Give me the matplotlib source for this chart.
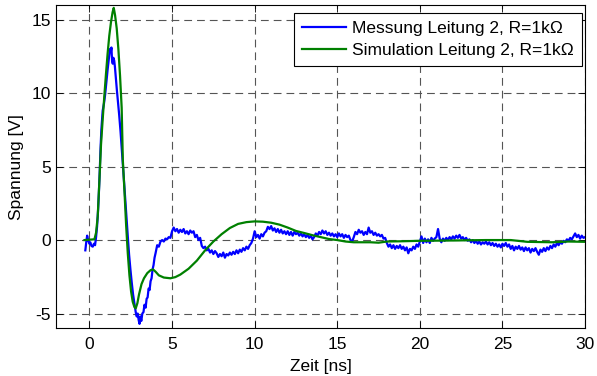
import numpy as np
import matplotlib
matplotlib.use("Agg")
import matplotlib.pyplot as plt

plt.rcParams["font.family"] = ["Liberation Sans", "DejaVu Sans"]
plt.rcParams["axes.unicode_minus"] = False

# --------------------------------------------------
# Measurement, line 2 (pulse part, irregular samples)
# --------------------------------------------------
mess_t_pulse = [-0.25, -0.2, -0.14, -0.08, 0.0, 0.05, 0.12, 0.2, 0.27, 0.34,
                0.4, 0.46, 0.52, 0.57, 0.62, 0.67, 0.72, 0.8, 0.88, 0.95,
                1.02, 1.1, 1.17, 1.24, 1.29, 1.33, 1.37, 1.41, 1.45, 1.5,
                1.54, 1.6, 1.66, 1.72, 1.8, 1.88, 1.95, 2.02, 2.08, 2.14,
                2.2, 2.27, 2.33, 2.4, 2.48, 2.56, 2.64, 2.72, 2.8, 2.86,
                2.92, 2.98, 3.03, 3.08, 3.14, 3.2, 3.27, 3.33, 3.4, 3.46,
                3.52, 3.58, 3.64, 3.7, 3.76, 3.82, 3.88, 3.94, 4.0]
mess_u_pulse = [-0.7, -0.2, 0.3, 0.0, -0.25, -0.15, -0.4, -0.45, -0.25, -0.35,
                0.2, 0.9, 2.0, 3.2, 4.6, 6.2, 7.5, 8.8, 9.3, 9.9,
                10.7, 11.6, 12.3, 13.0, 12.8, 13.1, 12.2, 12.0, 12.4, 12.2,
                11.8, 11.0, 10.2, 9.5, 8.5, 7.4, 6.3, 5.1, 4.2, 3.2,
                2.2, 1.0, 0.1, -1.0, -2.0, -2.9, -3.7, -4.3, -4.9, -5.2,
                -5.0, -5.45, -5.7, -5.2, -5.5, -5.0, -4.9, -4.4, -4.6, -4.0,
                -3.9, -3.3, -3.4, -2.8, -2.6, -2.0, -1.7, -1.2, -0.9]

# Measurement tail, sampled every 0.1 ns from 4.1 ns to 30 ns
mess_t0 = 4.1
mess_dt = 0.1
mess_u_tail = [
    -0.35, -0.45, -0.1, 0.0, -0.1, 0.1, 0.05, 0.2, 0.15, 0.6,
    0.85, 0.6, 0.75, 0.5, 0.7, 0.55, 0.75, 0.45, 0.6, 0.4,
    0.65, 0.5, 0.6, 0.2, 0.35, 0.0, 0.15, -0.4, -0.55, -0.45,
    -0.7, -0.6, -0.85, -0.7, -0.95, -0.75, -0.9, -1.15, -0.95, -1.1,
    -0.85, -1.2, -0.95, -1.05, -0.85, -1.0, -0.8, -0.95, -0.7, -0.9,
    -0.65, -0.8, -0.55, -0.7, -0.45, -0.6, -0.35, -0.2, 0.1, 0.6,
    0.2, 0.35, 0.1, 0.4, 0.25, 0.5, 0.6, 0.9, 0.75, 0.95,
    0.65, 0.8, 0.55, 0.75, 0.5, 0.7, 0.45, 0.6, 0.4, 0.6,
    0.35, 0.55, 0.3, 0.55, 0.4, 0.5, 0.3, 0.45, 0.25, 0.4,
    0.2, 0.35, 0.15, 0.3, 0.05, 0.2, 0.45, 0.3, 0.55, 0.4,
    0.65, 0.45, 0.6, 0.35, 0.5, 0.3, 0.45, 0.25, 0.4, 0.2,
    0.45, 0.25, 0.4, 0.15, 0.35, 0.2, 0.3, 0.0, -0.1, 0.2,
    0.55, 0.4, 0.7, 0.5, 0.6, 0.35, 0.55, 0.4, 0.85, 0.5,
    0.6, 0.35, 0.5, 0.3, 0.4, 0.25, 0.35, 0.1, 0.15, -0.2,
    -0.45, -0.3, -0.55, -0.35, -0.6, -0.4, -0.55, -0.35, -0.6, -0.45,
    -0.7, -0.5, -0.9, -0.6, -0.7, -0.45, -0.6, -0.3, -0.45, -0.1,
    0.25, -0.2, 0.1, -0.15, 0.05, -0.2, 0.15, -0.05, 0.1, 0.2,
    0.75, 0.1, -0.15, 0.1, -0.05, 0.15, 0.0, 0.2, 0.05, 0.25,
    0.1, 0.3, 0.15, 0.35, 0.1, 0.2, 0.0, 0.15, -0.05, 0.05,
    -0.15, 0.0, -0.2, -0.05, -0.25, -0.1, -0.3, -0.15, -0.25, -0.1,
    -0.3, -0.15, -0.35, -0.2, -0.4, -0.25, -0.45, -0.3, -0.5, -0.25,
    -0.4, -0.2, -0.45, -0.3, -0.6, -0.4, -0.7, -0.45, -0.6, -0.4,
    -0.65, -0.5, -0.75, -0.5, -0.7, -0.55, -0.85, -0.6, -0.75, -0.55,
    -0.8, -1.0, -0.65, -0.8, -0.55, -0.75, -0.5, -0.65, -0.4, -0.55,
    -0.3, -0.45, -0.2, -0.35, -0.15, -0.25, -0.05, -0.15, 0.05, -0.05,
    0.15, 0.05, 0.25, 0.45, 0.2, 0.35, 0.1, 0.3, 0.15, 0.2,
]

# --------------------------------------------------
# Simulation, line 2
# --------------------------------------------------
sim_t = [-0.3, 0.3, 0.4, 0.5, 0.6, 0.7, 0.8, 0.9, 1.0, 1.1,
         1.2, 1.3, 1.4, 1.47, 1.55, 1.65, 1.75, 1.85, 1.95, 2.02,
         2.12, 2.22, 2.32, 2.42, 2.52, 2.62, 2.72, 2.8, 2.9, 3.0,
         3.15, 3.3, 3.5, 3.7, 3.85, 4.0, 4.2, 4.5, 4.9, 5.2,
         5.5, 6.0, 6.5, 7.0, 7.5, 8.0, 8.5, 9.0, 9.5, 10.0,
         10.5, 11.0, 11.5, 12.0, 12.5, 13.0, 13.5, 14.0, 14.5, 15.0,
         15.5, 16.0, 17.0, 17.5, 18.0, 19.0, 20.0, 22.0, 24.0, 25.5,
         26.5, 28.0, 29.0, 30.0]
sim_u = [0.0, 0.05, 0.5, 1.6, 4.0, 6.5, 8.2, 9.8, 11.3, 12.7,
         13.9, 14.8, 15.5, 15.8, 15.3, 14.4, 13.0, 11.2, 9.0, 5.45,
         3.3, 1.0, -0.9, -2.4, -3.5, -4.2, -4.55, -4.65, -4.3, -3.7,
         -3.0, -2.6, -2.25, -2.05, -2.0, -2.15, -2.4, -2.55, -2.6, -2.52,
         -2.35, -1.95, -1.4, -0.7, -0.1, 0.4, 0.82, 1.1, 1.22, 1.27,
         1.25, 1.18, 1.05, 0.85, 0.62, 0.48, 0.33, 0.2, 0.07, 0.0,
         -0.1, -0.15, -0.15, -0.18, -0.1, -0.08, -0.05, -0.03, 0.0, 0.0,
         -0.12, -0.15, -0.1, -0.12]

mess_t_tail = np.round(mess_t0 + mess_dt * np.arange(len(mess_u_tail)), 2)
mess_t = np.concatenate([mess_t_pulse, mess_t_tail])
mess_u = np.concatenate([mess_u_pulse, mess_u_tail])

x_ticks = [0, 5, 10, 15, 20, 25, 30]
y_ticks = [-5, 0, 5, 10, 15]

fig = plt.figure(figsize=(5.97, 3.76), dpi=100)
ax = fig.add_axes([0.0945, 0.127, 0.8855, 0.86])

ax.plot(mess_t, mess_u, color="#0000ff", lw=1.6,
        label="Messung Leitung 2, R=1k\u03a9")
ax.plot(sim_t, sim_u, color="#008000", lw=1.6,
        label="Simulation Leitung 2, R=1k\u03a9")

ax.set_xlim(-2, 30)
ax.set_ylim(-6, 16)
ax.set_xticks(x_ticks)
ax.set_yticks(y_ticks)
ax.tick_params(direction="in", top=True, right=True, labelsize=12.5,
               length=5, width=0.6)
ax.tick_params(axis="x", pad=6)
ax.tick_params(axis="y", pad=4)
ax.grid(True, color="#555555", linestyle=(0, (7, 4.5)), linewidth=0.8)
for sp in ax.spines.values():
    sp.set_linewidth(0.8)

ax.set_xlabel("Zeit [ns]", fontsize=12.5, labelpad=5)
ax.set_ylabel("Spannung [V]", fontsize=12.5, labelpad=5)

leg = ax.legend(loc="upper right", bbox_to_anchor=(0.994, 0.974),
                fontsize=12.5, fancybox=False, framealpha=1,
                edgecolor="black", borderpad=0.45, handlelength=2.55,
                handletextpad=0.35, labelspacing=0.4, borderaxespad=0)
leg.get_frame().set_linewidth(0.8)

fig.savefig("out.png", dpi=100)
